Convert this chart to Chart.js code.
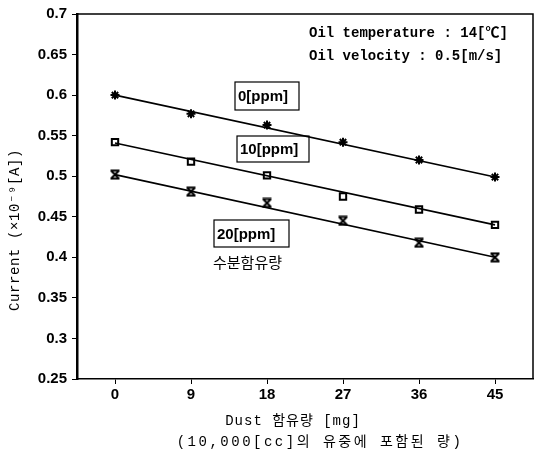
<!DOCTYPE html>
<html>
<head>
<meta charset="utf-8">
<script src="https://cdn.jsdelivr.net/npm/chart.js@4"></script>
<style>
  html, body { margin: 0; padding: 0; background: #fff; }
  #wrap { width: 536px; height: 454px; }
</style>
</head>
<body>
<div id="wrap"><canvas id="currentChart" width="536" height="454"></canvas></div>
<script>
// Dust content [mg] on the x axis
const dustLabels = ['0', '9', '18', '27', '36', '45'];

// measured current (x10^-9 A) per water content
const ppm0 = [0.600, 0.577, 0.563, 0.542, 0.520, 0.499];
const ppm10 = [0.542, 0.518, 0.501, 0.475, 0.459, 0.440];
const ppm20 = [0.502, 0.481, 0.467, 0.445, 0.418, 0.400];

// straight fitted lines, read at both ends
const fit0 = [0.600, null, null, null, null, 0.499];
const fit10 = [0.541, null, null, null, null, 0.440];
const fit20 = [0.502, null, null, null, null, 0.400];

const yTicks = [0.25, 0.3, 0.35, 0.4, 0.45, 0.5, 0.55, 0.6, 0.65, 0.7];

const monoFont = "'Liberation Mono', 'DejaVu Sans Mono', 'Noto Sans CJK KR', monospace";
const sansFont = "'Liberation Sans', Arial, sans-serif";

// hourglass marker for the 20 ppm points
function hourglass() {
    const c = document.createElement('canvas');
    c.width = 11; c.height = 11;
    const g = c.getContext('2d');
    g.strokeStyle = '#000';
    g.lineWidth = 2;
    g.beginPath();
    g.moveTo(1, 1.5); g.lineTo(10, 1.5);
    g.moveTo(1, 9.5); g.lineTo(10, 9.5);
    g.moveTo(2, 2); g.lineTo(9, 9);
    g.moveTo(9, 2); g.lineTo(2, 9);
    g.stroke();
    return c;
}

function pointSet(label, data, style, fill) {
    return {
        label: label,
        data: data,
        showLine: false,
        pointStyle: style,
        pointRadius: 4.5,
        pointBorderWidth: 2,
        pointBorderColor: '#000',
        pointBackgroundColor: fill
    };
}

function fitSet(data) {
    return {
        data: data,
        spanGaps: true,
        borderColor: '#000',
        borderWidth: 1.6,
        pointRadius: 0,
        fill: false
    };
}

// plot frame, axis titles and text boxes
const annotations = {
    id: 'annotations',
    afterDraw(chart) {
        const ctx = chart.ctx;
        const a = chart.chartArea;
        ctx.save();
        ctx.strokeStyle = '#000';
        ctx.lineWidth = 1.5;
        ctx.beginPath();
        ctx.moveTo(a.left, a.top);
        ctx.lineTo(a.right, a.top);
        ctx.lineTo(a.right, a.bottom);
        ctx.stroke();

        ctx.fillStyle = '#000';
        ctx.textBaseline = 'middle';
        ctx.textAlign = 'left';
        ctx.font = 'bold 14px ' + monoFont;
        ctx.fillText('Oil temperature : 14[\u2103]', 309, 33);
        ctx.fillText('Oil velocity : 0.5[m/s]', 309, 56);

        ctx.font = 'bold 15px ' + sansFont;
        const boxes = [
            { text: '0[ppm]', x: 235, y: 82, w: 64, h: 28 },
            { text: '10[ppm]', x: 237, y: 136, w: 72, h: 26 },
            { text: '20[ppm]', x: 214, y: 220, w: 75, h: 27 }
        ];
        ctx.lineWidth = 1.2;
        boxes.forEach(b => {
            ctx.strokeRect(b.x, b.y, b.w, b.h);
            ctx.fillText(b.text, b.x + 3, b.y + b.h / 2 + 1);
        });

        ctx.font = "15px 'Noto Sans CJK KR', sans-serif";
        ctx.fillText('수분함유량', 213, 262);

        // x axis title, two lines
        const cx = (a.left + a.right) / 2;
        ctx.textAlign = 'center';
        ctx.font = '14px ' + monoFont;
        ctx.letterSpacing = '1px';
        ctx.fillText('Dust 함유량 [mg]', cx - 12, 421);
        ctx.letterSpacing = '2.5px';
        ctx.fillText('(10,000[cc]의 유중에 포함된 량)', cx + 15, 442);

        // y axis title, rotated
        ctx.letterSpacing = '0.6px';
        ctx.translate(15, 230);
        ctx.rotate(-Math.PI / 2);
        ctx.fillText('Current (\u00d710\u207b\u2079[A])', 0, 0);
        ctx.restore();
    }
};

new Chart(document.getElementById('currentChart'), {
    type: 'line',
    data: {
        labels: dustLabels,
        datasets: [
            fitSet(fit0),
            fitSet(fit10),
            fitSet(fit20),
            pointSet('0[ppm]', ppm0, 'star', '#000'),
            pointSet('10[ppm]', ppm10, 'rect', '#fff'),
            pointSet('20[ppm]', ppm20, hourglass(), '#000')
        ]
    },
    options: {
        responsive: false,
        animation: false,
        layout: { autoPadding: false, padding: { top: 13, right: 3, left: 0, bottom: 0 } },
        plugins: {
            legend: { display: false },
            tooltip: { enabled: false }
        },
        scales: {
            x: {
                offset: true,
                afterFit: s => { s.height = 75; s.paddingLeft = 0; s.paddingRight = 0; },
                border: { color: '#000', width: 1.5 },
                grid: {
                    offset: false,
                    drawOnChartArea: false,
                    drawTicks: true,
                    tickLength: 5,
                    color: '#000'
                },
                ticks: {
                    color: '#000',
                    padding: 2,
                    font: { family: sansFont, size: 15, weight: 'bold' }
                }
            },
            y: {
                min: 0.25,
                max: 0.7,
                afterFit: s => { s.width = 77; },
                afterBuildTicks: s => { s.ticks = yTicks.map(v => ({ value: v })); },
                border: { color: '#000', width: 2.5 },
                grid: {
                    drawOnChartArea: false,
                    drawTicks: true,
                    tickLength: 5,
                    color: '#000'
                },
                ticks: {
                    color: '#000',
                    padding: 5,
                    font: { family: sansFont, size: 15, weight: 'bold' },
                    callback: v => String(Number(v.toFixed(2)))
                }
            }
        }
    },
    plugins: [annotations]
});
</script>
</body>
</html>
